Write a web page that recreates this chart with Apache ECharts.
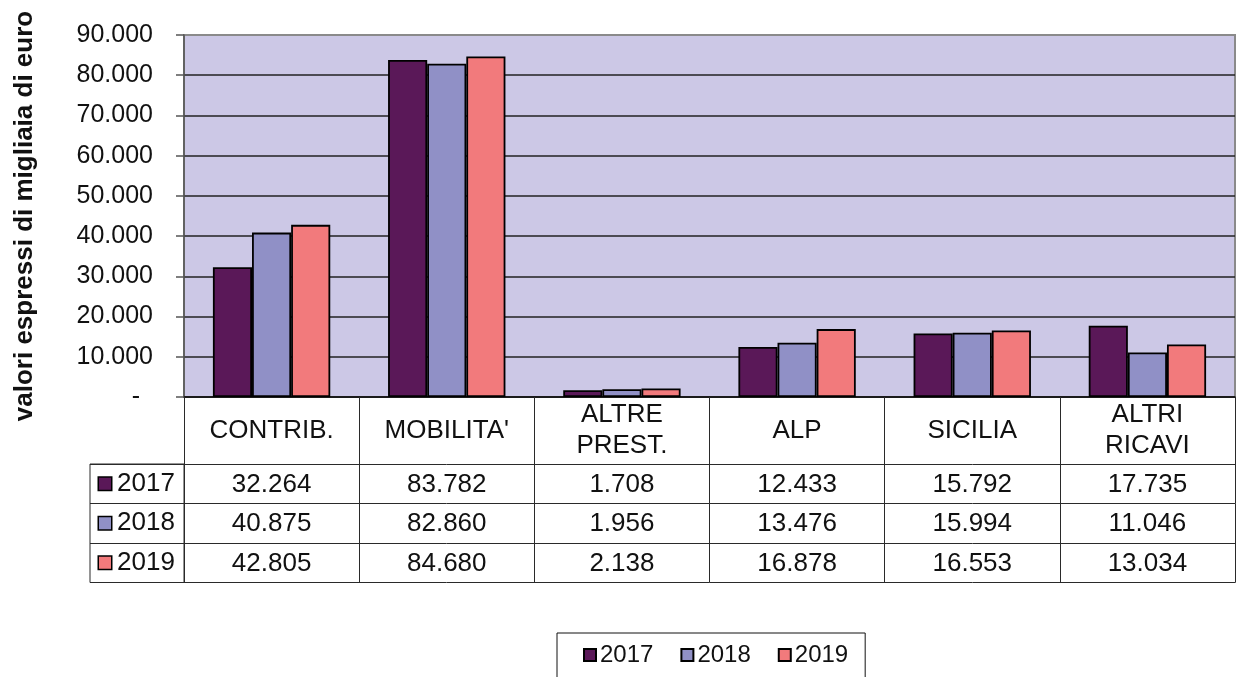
<!DOCTYPE html>
<html>
<head>
<meta charset="utf-8">
<script src="https://cdn.jsdelivr.net/npm/echarts@6/dist/echarts.min.js"></script>
<style>html,body{margin:0;padding:0;background:#fff;}#c{width:1238px;height:677px;}</style>
</head>
<body>
<div id="c"></div>
<script>
const categories = ['CONTRIB.', "MOBILITA'", 'ALTRE\nPREST.', 'ALP', 'SICILIA', 'ALTRI\nRICAVI'];
const years = ['2017', '2018', '2019'];
const s2017 = [32264, 83782, 1708, 12433, 15792, 17735];
const s2018 = [40875, 82860, 1956, 13476, 15994, 11046];
const s2019 = [42805, 84680, 2138, 16878, 16553, 13034];
const yTicks = { min: 0, max: 90000, interval: 10000 };

const seriesValues = [s2017, s2018, s2019];
const colors = ['#5a1858', '#9090c6', '#f27a7c'];
const FONT = 'Liberation Sans';
const fmt = v => String(v).replace(/\B(?=(\d{3})+(?!\d))/g, '.');

const chart = echarts.init(document.getElementById('c'));

const headerTop = 397, rowTops = [464, 503.5, 543, 582.5];
const lineCol = '#2a2a2a';

const xAxes = [{
  type: 'category', gridIndex: 0, data: categories, position: 'bottom',
  axisLine: { lineStyle: { color: '#111', width: 1.5 } },
  axisTick: { show: true, alignWithLabel: false, length: rowTops[0] - headerTop, lineStyle: { color: lineCol, width: 1 } },
  axisLabel: { interval: 0, margin: (rowTops[0] - headerTop) / 2, verticalAlign: 'middle', fontFamily: FONT, fontSize: 26, lineHeight: 31, color: '#111' }
}];
seriesValues.forEach((vals, r) => {
  xAxes.push({
    type: 'category', gridIndex: 0, data: categories, position: 'bottom',
    offset: rowTops[r] - headerTop,
    axisLine: { show: true, lineStyle: { color: lineCol, width: 1 } },
    axisTick: { show: true, alignWithLabel: false, length: rowTops[r + 1] - rowTops[r], lineStyle: { color: lineCol, width: 1 } },
    axisLabel: { interval: 0, margin: (rowTops[r + 1] - rowTops[r]) / 2 + 1, verticalAlign: 'middle', fontFamily: FONT, fontSize: 26, color: '#111',
      formatter: (v, i) => fmt(vals[i]) }
  });
});
xAxes.push({
  type: 'category', gridIndex: 0, data: categories, position: 'bottom',
  offset: rowTops[3] - headerTop,
  axisLine: { show: true, lineStyle: { color: lineCol, width: 1 } },
  axisTick: { show: false }, axisLabel: { show: false }
});
xAxes.push({ type: 'value', gridIndex: 1, show: false, min: 0, max: 1 });

const richLeg = {};
years.forEach((y, i) => {
  richLeg['b' + i] = { width: 12, height: 12, backgroundColor: colors[i], borderColor: '#000', borderWidth: 1.5 };
  richLeg['t' + i] = { fontFamily: FONT, fontSize: 26, color: '#111', padding: [0, 0, 0, 6] };
});

const option = {
  animation: false,
  backgroundColor: '#fff',
  grid: [
    { left: 184, right: 3, top: 35, bottom: 677 - headerTop, show: true, backgroundColor: '#ccc8e6', borderColor: '#8a8a8a', borderWidth: 2 },
    { left: 90, width: 94, top: rowTops[0], height: rowTops[3] - rowTops[0], show: true, borderColor: lineCol, borderWidth: 1 }
  ],
  xAxis: xAxes,
  yAxis: [{
    type: 'value', gridIndex: 0, min: yTicks.min, max: yTicks.max, interval: yTicks.interval,
    axisLine: { show: true, lineStyle: { color: '#555', width: 1.5 } },
    axisTick: { show: true, length: 8, lineStyle: { color: '#555', width: 1.5 } },
    splitLine: { show: true, lineStyle: { color: ['#222', '#222', '#222', '#222', '#222', '#222', '#222', '#222', '#222', '#8a8a8a'], width: 1.5 } },
    axisLabel: { margin: 31, fontFamily: FONT, fontSize: 25, color: '#111',
      formatter: v => v === 0 ? '{d|-}' : fmt(v),
      rich: { d: { fontFamily: FONT, fontSize: 25, color: '#111', padding: [0, 13, 0, 0] } } }
  }, {
    type: 'category', gridIndex: 1, data: years, inverse: true,
    axisLine: { show: false }, axisTick: { show: false },
    splitLine: { show: true, lineStyle: { color: lineCol, width: 1 } },
    axisLabel: { inside: true, margin: 9, align: 'left', formatter: (v, i) => '{b' + i + '|}{t' + i + '|' + v + '}', rich: richLeg }
  }],
  legend: {
    data: years, left: 557, top: 633, orient: 'horizontal',
    borderColor: '#111', borderWidth: 1, padding: [10, 17, 14, 26],
    itemWidth: 12, itemHeight: 12, itemGap: 27,
    icon: 'rect',
    textStyle: { fontFamily: FONT, fontSize: 24, color: '#111', padding: [0, 0, 0, -1] }
  },
  graphic: [{
    type: 'text', x: 25, y: 216, rotation: Math.PI / 2,
    style: { text: 'valori espressi di migliaia di euro', font: 'bold 26px "Liberation Sans"', fill: '#111', textAlign: 'center', textVerticalAlign: 'middle' }
  }],
  series: seriesValues.map((vals, i) => ({
    name: years[i], type: 'bar', xAxisIndex: 0, yAxisIndex: 0, data: vals,
    barGap: '0%', barCategoryGap: '33%',
    itemStyle: { color: colors[i], borderColor: '#000', borderWidth: 1.8 }
  }))
};
chart.setOption(option);
</script>
</body>
</html>
